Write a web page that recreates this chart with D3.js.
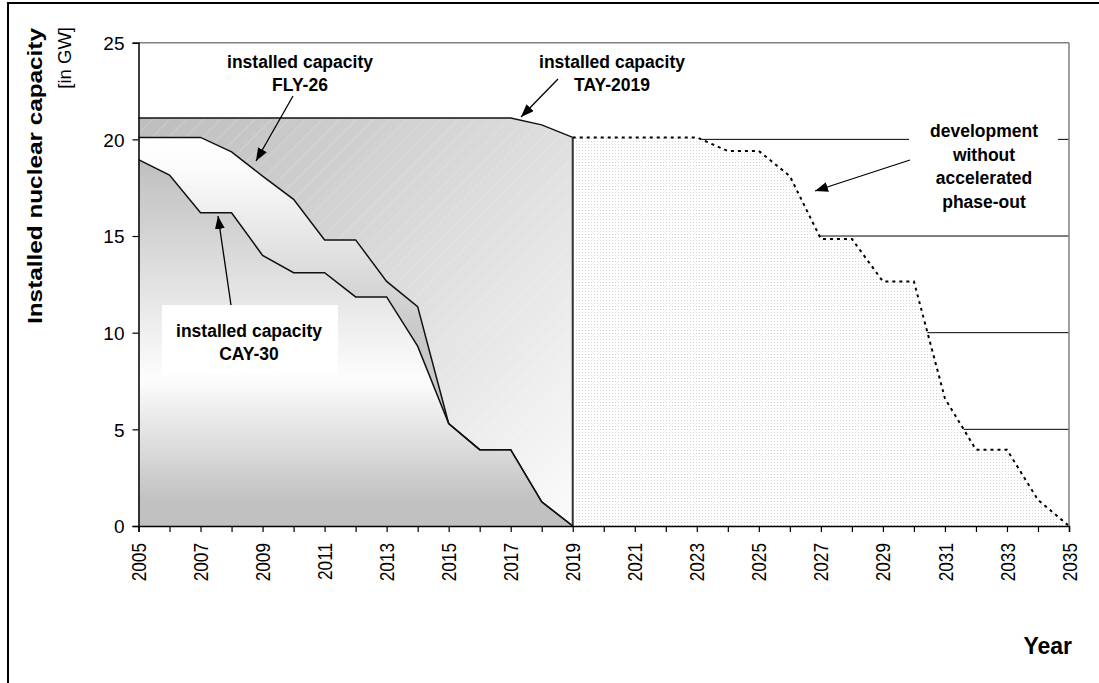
<!DOCTYPE html>
<html>
<head>
<meta charset="utf-8">
<script src="https://cdn.jsdelivr.net/npm/d3@7"></script>
<style>
  html, body { margin: 0; padding: 0; background: #fff; }
  svg { display: block; }
  text { font-family: "Liberation Sans", Arial, sans-serif; fill: #000; }
</style>
</head>
<body>
<svg id="chart" width="1099" height="683"></svg>
<script>
// ---- data ----
const yearsHist = [2005, 2006, 2007, 2008, 2009, 2010, 2011, 2012, 2013, 2014, 2015, 2016, 2017, 2018, 2019];
const tay2019 = [21.1, 21.1, 21.1, 21.1, 21.1, 21.1, 21.1, 21.1, 21.1, 21.1, 21.1, 21.1, 21.1, 20.75, 20.1];
const fly26 = [20.1, 20.1, 20.1, 19.35, 18.1, 16.9, 14.8, 14.8, 12.65, 11.35, 5.3, 3.95, 3.95, 1.25, 0];
const cay30 = [18.95, 18.15, 16.2, 16.2, 14.0, 13.1, 13.1, 11.85, 11.85, 9.3, 5.3, 3.95, 3.95, 1.25, 0];
const yearsDev = [2019, 2020, 2021, 2022, 2023, 2024, 2025, 2026, 2027, 2028, 2029, 2030, 2031, 2032, 2033, 2034, 2035];
const devNoAccel = [20.1, 20.1, 20.1, 20.1, 20.1, 19.4, 19.4, 18.1, 14.85, 14.85, 12.65, 12.65, 6.6, 3.95, 3.95, 1.35, 0];
const yTicks = [0, 5, 10, 15, 20, 25];
const xTickLabels = [2005, 2007, 2009, 2011, 2013, 2015, 2017, 2019, 2021, 2023, 2025, 2027, 2029, 2031, 2033, 2035];
const allYears = d3.range(2005, 2036);

(function () {
const svg = d3.select("#chart");
const pL = 138.5, pR = 1069, pT = 42.7, pB = 526;
const x = d3.scaleLinear().domain([2005, 2035]).range([pL, pR]);
const y = d3.scaleLinear().domain([0, 25]).range([pB, pT]);

// outer frame
svg.append("rect").attr("x", 8).attr("y", 3).attr("width", 1200).attr("height", 800)
  .attr("fill", "#fff").attr("stroke", "#000").attr("stroke-width", 2);

const defs = svg.append("defs");
// TAY diagonal gradient
const gT = defs.append("linearGradient").attr("id", "gTay").attr("gradientUnits", "userSpaceOnUse")
  .attr("x1", pL).attr("y1", y(21.1)).attr("x2", x(2019)).attr("y2", pB);
gT.append("stop").attr("offset", "0").attr("stop-color", "#bdbdbd");
gT.append("stop").attr("offset", "1").attr("stop-color", "#fbfbfb");
// hatch
const hp = defs.append("pattern").attr("id", "hatch").attr("patternUnits", "userSpaceOnUse")
  .attr("width", 12).attr("height", 12).attr("patternTransform", "rotate(45)");
hp.append("line").attr("x1", 0).attr("y1", 0).attr("x2", 0).attr("y2", 12)
  .attr("stroke", "#ffffff").attr("stroke-width", 1).attr("stroke-opacity", 0.35);
// FLY gradient
const gF = defs.append("linearGradient").attr("id", "gFly").attr("gradientUnits", "userSpaceOnUse")
  .attr("x1", 0).attr("y1", y(20.1)).attr("x2", 0).attr("y2", pB);
gF.append("stop").attr("offset", "0").attr("stop-color", "#ffffff");
gF.append("stop").attr("offset", "0.08").attr("stop-color", "#fbfbfb");
gF.append("stop").attr("offset", "0.5").attr("stop-color", "#c9c9c9");
gF.append("stop").attr("offset", "1").attr("stop-color", "#c9c9c9");
// CAY gradient
const gC = defs.append("linearGradient").attr("id", "gCay").attr("gradientUnits", "userSpaceOnUse")
  .attr("x1", 0).attr("y1", y(18.95)).attr("x2", 0).attr("y2", pB);
gC.append("stop").attr("offset", "0").attr("stop-color", "#bfbfbf");
gC.append("stop").attr("offset", "0.6").attr("stop-color", "#fdfdfd");
gC.append("stop").attr("offset", "0.93").attr("stop-color", "#c2c2c2");
gC.append("stop").attr("offset", "1").attr("stop-color", "#c0c0c0");
// dot pattern
const dp = defs.append("pattern").attr("id", "dots").attr("patternUnits", "userSpaceOnUse")
  .attr("width", 3).attr("height", 3);
dp.append("rect").attr("width", 3).attr("height", 3).attr("fill", "#ffffff");
dp.append("rect").attr("width", 1).attr("height", 1).attr("fill", "#d2d2d2");
// arrow marker
defs.append("marker").attr("id", "arr").attr("markerUnits", "userSpaceOnUse")
  .attr("markerWidth", 14).attr("markerHeight", 10).attr("refX", 13).attr("refY", 5)
  .attr("orient", "auto")
  .append("path").attr("d", "M0,0 L13,5 L0,10 Z").attr("fill", "#000");

// plot background
svg.append("rect").attr("x", pL).attr("y", pT).attr("width", pR - pL).attr("height", pB - pT).attr("fill", "#fff");

// gridlines
svg.append("g").selectAll("line").data(yTicks.filter(d => d > 0 && d < 25)).join("line")
  .attr("x1", pL).attr("x2", pR).attr("y1", d => y(d)).attr("y2", d => y(d))
  .attr("stroke", "#000").attr("stroke-width", 1);

const area = (vals, yrs) => d3.area().x((d, i) => x(yrs[i])).y0(y(0)).y1(d => y(d))(vals);
const line = (vals, yrs) => d3.line().x((d, i) => x(yrs[i])).y(d => y(d))(vals);

// TAY area
svg.append("path").attr("d", area(tay2019, yearsHist)).attr("fill", "url(#gTay)");
svg.append("path").attr("d", area(tay2019, yearsHist)).attr("fill", "url(#hatch)");
// FLY area
svg.append("path").attr("d", area(fly26, yearsHist)).attr("fill", "url(#gFly)");
// CAY area
svg.append("path").attr("d", area(cay30, yearsHist)).attr("fill", "url(#gCay)");
// dev area
svg.append("path").attr("d", area(devNoAccel, yearsDev)).attr("fill", "url(#dots)");

// lines
svg.append("path").attr("d", line(tay2019, yearsHist)).attr("fill", "none").attr("stroke", "#111").attr("stroke-width", 1.5);
svg.append("line").attr("x1", x(2019)).attr("x2", x(2019)).attr("y1", y(tay2019[tay2019.length - 1])).attr("y2", y(0))
  .attr("stroke", "#333").attr("stroke-width", 2);
svg.append("path").attr("d", line(fly26, yearsHist)).attr("fill", "none").attr("stroke", "#111").attr("stroke-width", 1.5);
svg.append("path").attr("d", line(cay30, yearsHist)).attr("fill", "none").attr("stroke", "#111").attr("stroke-width", 1.5);
svg.append("path").attr("d", line(devNoAccel, yearsDev)).attr("fill", "none").attr("stroke", "#000")
  .attr("stroke-width", 2).attr("stroke-dasharray", "3,4");

// plot border (gray top & right)
svg.append("line").attr("x1", pL).attr("x2", pR).attr("y1", pT).attr("y2", pT).attr("stroke", "#808080").attr("stroke-width", 1.5);
svg.append("line").attr("x1", pR).attr("x2", pR).attr("y1", pT).attr("y2", pB).attr("stroke", "#808080").attr("stroke-width", 1.5);

// y axis
const yAxis = svg.append("g").attr("transform", `translate(${pL},0)`)
  .call(d3.axisLeft(y).tickValues(yTicks).tickSize(6).tickPadding(8).tickFormat(d3.format("d")));
yAxis.select(".domain").attr("stroke", "#000").attr("stroke-width", 1.5);
yAxis.selectAll(".tick line").attr("stroke", "#000").attr("stroke-width", 1.2);
yAxis.selectAll("text").style("font-size", "19px").style("font-family", "Liberation Sans, Arial, sans-serif").attr("dy", "0.36em");

// x axis
const xAxis = svg.append("g").attr("transform", `translate(0,${pB})`)
  .call(d3.axisBottom(x).tickValues(allYears).tickSize(6).tickFormat(""));
xAxis.select(".domain").attr("stroke", "#000").attr("stroke-width", 1.5);
xAxis.selectAll(".tick line").attr("stroke", "#000").attr("stroke-width", 1.2);
svg.append("g").selectAll("text").data(xTickLabels).join("text")
  .attr("transform", d => `translate(${x(d)},543) rotate(-90) scale(0.82,1)`)
  .attr("text-anchor", "end").attr("dy", "0.36em")
  .style("font-size", "21px").text(d => d);

// axis titles
svg.append("text").attr("transform", "translate(42,28) rotate(-90)").attr("text-anchor", "end")
  .attr("textLength", 296).attr("lengthAdjust", "spacingAndGlyphs")
  .style("font-size", "20.5px").style("font-weight", "bold").text("Installed nuclear capacity");
svg.append("text").attr("transform", "translate(71,27) rotate(-90)").attr("text-anchor", "end")
  .style("font-size", "18.5px").text("[in GW]");
svg.append("text").attr("x", 1072).attr("y", 654).attr("text-anchor", "end")
  .style("font-size", "23px").style("font-weight", "bold").text("Year");

// annotations
function label(cx, lines, y0, dyv) {
  const t = svg.append("text").attr("text-anchor", "middle").style("font-size", "17.5px").style("font-weight", "bold");
  lines.forEach((l, i) => t.append("tspan").attr("x", cx).attr("y", y0 + i * dyv).text(l));
}
function arrow(x1, y1, x2, y2) {
  svg.append("line").attr("x1", x1).attr("y1", y1).attr("x2", x2).attr("y2", y2)
    .attr("stroke", "#000").attr("stroke-width", 1.3).attr("marker-end", "url(#arr)");
}
label(300, ["installed capacity", "FLY-26"], 68, 23);
arrow(293, 96, 256, 161);
label(612, ["installed capacity", "TAY-2019"], 68, 23);
arrow(558, 79, 521, 117);

svg.append("rect").attr("x", 162).attr("y", 305).attr("width", 176).attr("height", 70).attr("fill", "#fff");
label(249, ["installed capacity", "CAY-30"], 337, 23);
arrow(231, 305, 218, 216);

svg.append("rect").attr("x", 909).attr("y", 116).attr("width", 149).attr("height", 110).attr("fill", "#fff");
label(984, ["development", "without", "accelerated", "phase-out"], 137, 23.5);
arrow(910, 160, 815, 191);
})();
</script>
</body>
</html>
